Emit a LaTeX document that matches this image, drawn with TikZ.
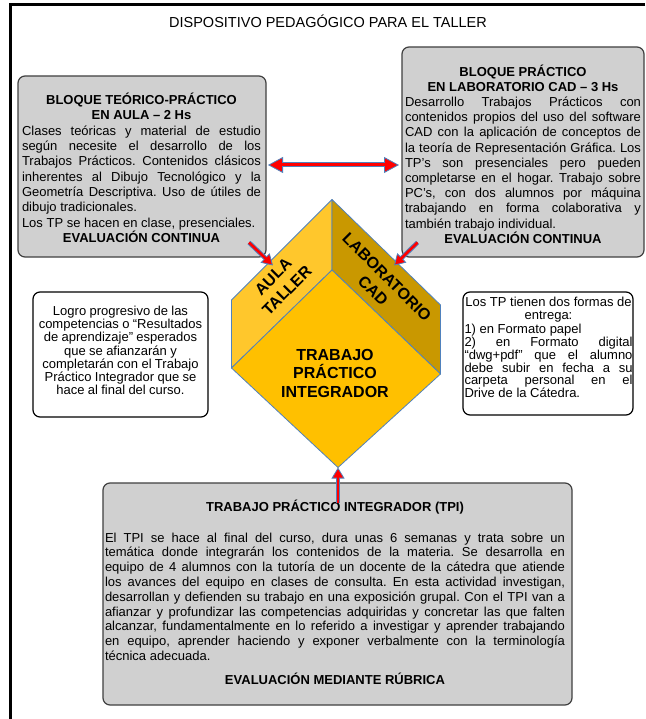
\documentclass[tikz,border=0pt]{standalone}
\usepackage{fontspec}
\setmainfont{Liberation Sans}
\usetikzlibrary{arrows.meta,calc}
\definecolor{boxgray}{RGB}{208,208,208}
\definecolor{arrowblue}{RGB}{79,129,189}
\definecolor{faceL}{RGB}{255,199,44}
\definecolor{faceR}{RGB}{201,152,0}
\definecolor{faceF}{RGB}{255,192,0}
\definecolor{cubeedge}{RGB}{79,129,189}
\hyphenpenalty=10000
\exhyphenpenalty=10000
\tolerance=10000
\frenchspacing
\setlength{\parindent}{0pt}
\newcommand{\fs}[1]{\fontsize{13}{#1}\selectfont}
\newcommand{\topstrut}{\rule{0pt}{13pt}}
\begin{document}
\begin{tikzpicture}[x=1pt,y=-1pt,
  graybox/.style={draw=black!75, line width=1.2pt, fill=boxgray, rounded corners=7pt, inner sep=0pt},
  whitebox/.style={draw=black, line width=1.2pt, fill=white, rounded corners=7pt, inner sep=0pt},
  txt/.style={inner sep=0pt, align=justify, anchor=north},
  face/.style={draw=cubeedge, line width=0.8pt, line join=round},
  cubelabel/.style={font=\bfseries\fontsize{16}{19.5}\selectfont, align=center, inner sep=0pt},
  frameline/.style={line width=3pt, black},
  bigarrow/.style={arrowblue, line width=5pt, {Triangle[length=15pt,width=16pt,line width=0.8pt,fill=red]}-{Triangle[length=15pt,width=16pt,line width=0.8pt,fill=red]}},
  bigcore/.style={red, line width=3pt, shorten <=13pt, shorten >=13pt},
  smallarrow/.style={arrowblue, line width=4.5pt, -{Triangle[length=11pt,width=13pt,line width=0.8pt,fill=red]}},
  smallcore/.style={red, line width=2.6pt, shorten >=9.5pt},
]
\useasboundingbox (0,0) rectangle (645,719);
\fill[white] (0,0) rectangle (645,719);

% frame
\coordinate (f1) at (645,5);
\coordinate (f2) at (10,5);
\coordinate (f3) at (10,719);
\draw[frameline] (f1) -- (f2) -- (f3);

% title
\node[font=\fontsize{14.5}{17}\selectfont, inner sep=0pt] (title) at (328,21) {DISPOSITIVO PEDAGÓGICO PARA EL TALLER};

% left box
\node[graybox, minimum width=248pt, minimum height=181pt] (lbox) at (142,166.5) {};
\node[txt, text width=239pt] (ltext) at (141.5,91.5) {\fs{15.3}{\centering\bfseries\topstrut BLOQUE TEÓRICO-PRÁCTICO\\EN AULA – 2 Hs\par}
Clases teóricas y material de estudio\linebreak
según necesite el desarrollo de los\linebreak
Trabajos Prácticos. Contenidos clásicos\linebreak
inherentes al Dibujo Tecnológico y la\linebreak
Geometría Descriptiva. Uso de útiles de\linebreak
dibujo tradicionales.\par
Los TP se hacen en clase, presenciales.\par
{\centering\bfseries EVALUACIÓN CONTINUA\par}};

% right box
\node[graybox, minimum width=242pt, minimum height=210pt] (rbox) at (523,152) {};
\node[txt, text width=236pt] (rtext) at (523,63) {\fs{15.2}{\centering\bfseries\topstrut BLOQUE PRÁCTICO\\EN LABORATORIO CAD – 3 Hs\par}
Desarrollo Trabajos Prácticos con\linebreak
contenidos propios del uso del software\linebreak
CAD con la aplicación de conceptos de\linebreak
la teoría de Representación Gráfica. Los\linebreak
TP's son presenciales pero pueden\linebreak
completarse en el hogar. Trabajo sobre\linebreak
PC's, con dos alumnos por máquina\linebreak
trabajando en forma colaborativa y\linebreak
también trabajo individual.\par
{\centering\bfseries EVALUACIÓN CONTINUA\par}};

% cube
\coordinate (T) at (332,199.5);
\coordinate (L1) at (231.5,300);
\coordinate (C) at (332,270);
\coordinate (L2) at (231.5,368);
\coordinate (R1) at (440.5,305);
\coordinate (R2) at (440.5,374);
\coordinate (B) at (338,467.5);
\filldraw[face, fill=faceL] (T) -- (C) -- (L2) -- (L1) -- cycle;
\filldraw[face, fill=faceR] (T) -- (R1) -- (R2) -- (C) -- cycle;
\filldraw[face, fill=faceF] (C) -- (R2) -- (B) -- (L2) -- cycle;
\node[cubelabel, rotate=45] (aula) at (280,283.5) {AULA\\TALLER};
\node[cubelabel, rotate=-45] (lab) at (380,284) {LABORATORIO\\CAD};
\node[cubelabel, font=\bfseries\fontsize{16}{18.5}\selectfont] (tpi) at (335,373) {TRABAJO\\PRÁCTICO\\INTEGRADOR};

% left small box
\node[whitebox, minimum width=175pt, minimum height=125pt] (lgbox) at (120.5,354.5) {};
\node[txt, align=center, text width=172pt] (lgtext) at (120.5,302.2) {\fs{13.2}\topstrut Logro progresivo de las\\
competencias o “Resultados\\
de aprendizaje” esperados\\
que se afianzarán y\\
completarán con el Trabajo\\
Práctico Integrador que se\\
hace al final del curso.};

% right small box
\node[whitebox, minimum width=170pt, minimum height=123pt] (entbox) at (548,353.5) {};
\node[txt, text width=168pt] (enttext) at (548.5,293.3) {\fs{13.3}{\centering\topstrut Los TP tienen dos formas de\\entrega:\par}
1) en Formato papel\par
2) en Formato digital\linebreak
“dwg+pdf” que el alumno\linebreak
debe subir en fecha a su\linebreak
carpeta personal en el\linebreak
Drive de la Cátedra.};

% bottom box
\node[graybox, minimum width=469pt, minimum height=222pt] (bbox) at (337.5,594) {};
\node[txt, text width=460pt] (btext) at (335,498.5) {\fs{14.8}{\centering\bfseries\topstrut TRABAJO PRÁCTICO INTEGRADOR (TPI)\par}\vspace{15.5pt}
El TPI se hace al final del curso, dura unas 6 semanas y trata sobre un\linebreak
temática donde integrarán los contenidos de la materia. Se desarrolla en\linebreak
equipo de 4 alumnos con la tutoría de un docente de la cátedra que atiende\linebreak
los avances del equipo en clases de consulta. En esta actividad investigan,\linebreak
desarrollan y defienden su trabajo en una exposición grupal. Con el TPI van a\linebreak
afianzar y profundizar las competencias adquiridas y concretar las que falten\linebreak
alcanzar, fundamentalmente en lo referido a investigar y aprender trabajando\linebreak
en equipo, aprender haciendo y exponer verbalmente con la terminología\linebreak
técnica adecuada.\par\vspace{9.6pt}
{\centering\bfseries EVALUACIÓN MEDIANTE RÚBRICA\par}};

% arrows
\coordinate (hA) at (268,165);
\coordinate (hB) at (399,165);
\draw[bigarrow] (hA) -- (hB);
\draw[bigcore] (hA) -- (hB);

\coordinate (la0) at (249,242.5);
\coordinate (la1) at (273,265.5);
\draw[smallarrow] (la0) -- (la1);
\draw[smallcore] (la0) -- (la1);

\coordinate (ra0) at (417.5,242.5);
\coordinate (ra1) at (394,265.5);
\draw[smallarrow] (ra0) -- (ra1);
\draw[smallcore] (ra0) -- (ra1);

\coordinate (ba0) at (338,503);
\draw[smallarrow] (ba0) -- (B);
\draw[smallcore] (ba0) -- (B);
\end{tikzpicture}
\end{document}
